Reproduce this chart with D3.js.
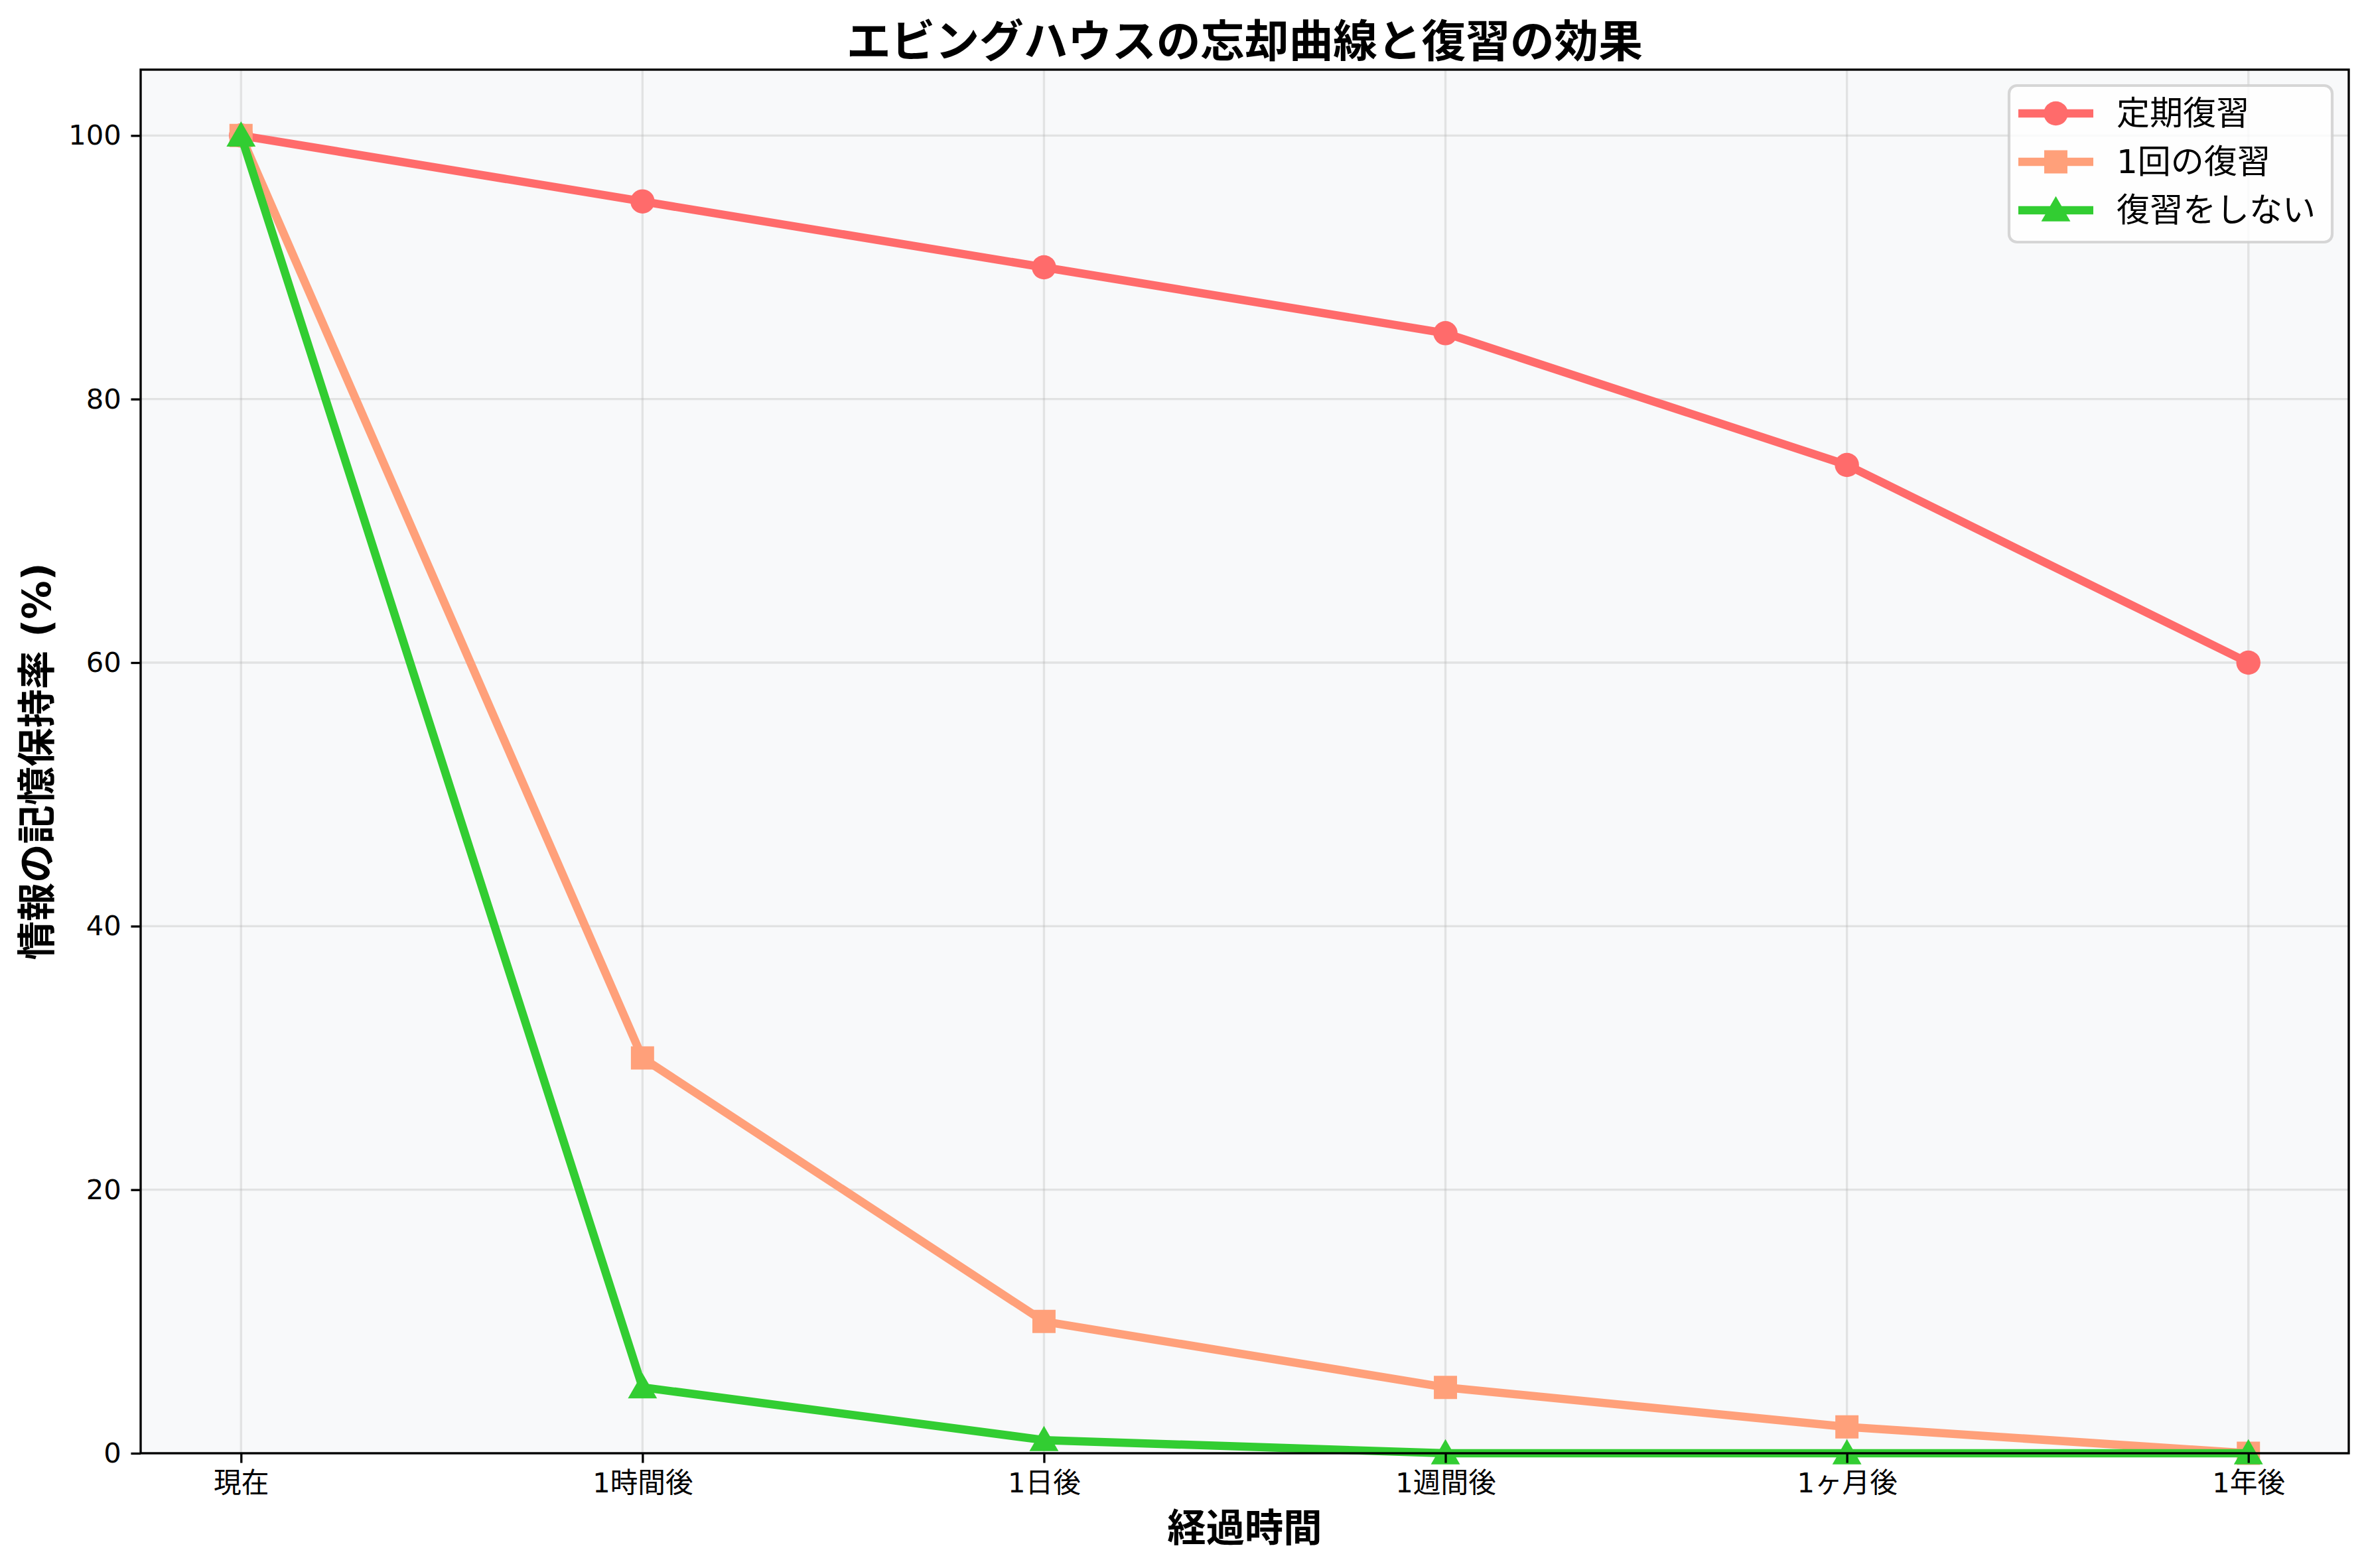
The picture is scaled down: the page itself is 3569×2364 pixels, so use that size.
<!DOCTYPE html>
<html>
<head>
<meta charset="utf-8">
<script src="https://cdn.jsdelivr.net/npm/d3@7/dist/d3.min.js"></script>
<style>
  html, body { margin: 0; padding: 0; background: #ffffff; }
  svg { display: block; }
  text { font-family: "DejaVu Sans", "Noto Sans CJK JP", sans-serif; }
</style>
</head>
<body>
<script>
// ---- data ----
const categories = ["現在", "1時間後", "1日後", "1週間後", "1ヶ月後", "1年後"];
const seriesNames = ["定期復習", "1回の復習", "復習をしない"];
const seriesRegular = [100, 95, 90, 85, 75, 60];
const seriesOnce = [100, 30, 10, 5, 2, 0];
const seriesNone = [100, 5, 1, 0, 0, 0];
const yTicks = [0, 20, 40, 60, 80, 100];
const titleText = "エビングハウスの忘却曲線と復習の効果";
const xLabelText = "経過時間";
const yLabelText = "情報の記憶保持率 (%)";

const W = 3569, H = 2364;
const m = { left: 212, right: 3540, top: 105, bottom: 2191 };
const pt = 300 / 72;

const colors = ["#FF6B6B", "#FFA07A", "#32CD32"];
const shapes = [d3.symbolCircle, d3.symbolSquare, d3.symbolTriangle];
const seriesData = [seriesRegular, seriesOnce, seriesNone];

const svg = d3.select("body").append("svg").attr("width", W).attr("height", H);
svg.append("rect").attr("width", W).attr("height", H).attr("fill", "#ffffff");

const x = d3.scaleLinear().domain([-0.25, categories.length - 1 + 0.25]).range([m.left, m.right]);
const y = d3.scaleLinear().domain([0, 105]).range([m.bottom, m.top]);

// plot background
svg.append("rect").attr("x", m.left).attr("y", m.top)
  .attr("width", m.right - m.left).attr("height", m.bottom - m.top).attr("fill", "#f8f9fa");

// grid
const grid = svg.append("g");
grid.selectAll("line.gx").data(categories.map((c, i) => i)).enter().append("line")
  .attr("x1", d => x(d)).attr("x2", d => x(d)).attr("y1", m.top).attr("y2", m.bottom)
  .attr("stroke", "#b0b0b0").attr("stroke-opacity", 0.3).attr("stroke-width", 0.8 * pt);
grid.selectAll("line.gy").data(yTicks).enter().append("line")
  .attr("x1", m.left).attr("x2", m.right).attr("y1", d => y(d)).attr("y2", d => y(d))
  .attr("stroke", "#b0b0b0").attr("stroke-opacity", 0.3).attr("stroke-width", 0.8 * pt);

// lines and markers
const line = d3.line().x((d, i) => x(i)).y(d => y(d));
const markerArea = Math.pow(8 * pt, 2);
const markerSize = [Math.PI / 4 * markerArea * 1.2, markerArea * 1.1, markerArea * 0.75];

seriesData.forEach((vals, s) => {
  const g = svg.append("g");
  g.append("path").datum(vals).attr("d", line).attr("fill", "none")
    .attr("stroke", colors[s]).attr("stroke-width", 3 * pt).attr("stroke-linejoin", "round")
    .attr("stroke-linecap", "butt");
  g.selectAll("path.mk").data(vals).enter().append("path")
    .attr("transform", (d, i) => `translate(${x(i)},${y(d) + (s === 2 ? 4 : 0)})`)
    .attr("d", d3.symbol().type(shapes[s]).size(markerSize[s]))
    .attr("fill", colors[s]);
});

// spines
svg.append("rect").attr("x", m.left).attr("y", m.top)
  .attr("width", m.right - m.left).attr("height", m.bottom - m.top)
  .attr("fill", "none").attr("stroke", "#000").attr("stroke-width", 0.8 * pt);

// axes
const xAxis = d3.axisBottom(x).tickValues(categories.map((c, i) => i))
  .tickFormat(i => categories[i]).tickSize(3.5 * pt).tickPadding(3.5 * pt);
const gx = svg.append("g").attr("transform", `translate(0,${m.bottom})`).call(xAxis);
gx.select(".domain").remove();
gx.selectAll(".tick line").attr("stroke", "#000").attr("stroke-width", 0.8 * pt);
gx.selectAll(".tick text").attr("font-size", 10 * pt).attr("fill", "#000")
  .attr("font-family", '"DejaVu Sans", "Noto Sans CJK JP", sans-serif');

const yAxis = d3.axisLeft(y).tickValues(yTicks).tickSize(3.5 * pt).tickPadding(3.5 * pt);
const gy = svg.append("g").attr("transform", `translate(${m.left},0)`).call(yAxis);
gy.select(".domain").remove();
gy.selectAll(".tick line").attr("stroke", "#000").attr("stroke-width", 0.8 * pt);
gy.selectAll(".tick text").attr("font-size", 10 * pt).attr("fill", "#000")
  .attr("font-family", '"DejaVu Sans", "Noto Sans CJK JP", sans-serif');

// title & labels
svg.append("text").attr("x", (m.left + m.right) / 2).attr("y", 86)
  .attr("text-anchor", "middle").attr("font-size", 16 * pt).attr("font-weight", "bold")
  .attr("fill", "#000").text(titleText);
svg.append("text").attr("x", (m.left + m.right) / 2).attr("y", 2324)
  .attr("text-anchor", "middle").attr("font-size", 14 * pt).attr("font-weight", "bold")
  .attr("fill", "#000").text(xLabelText);
svg.append("text").attr("transform", `translate(76,${(m.top + m.bottom) / 2}) rotate(-90)`)
  .attr("text-anchor", "middle").attr("font-size", 14 * pt).attr("font-weight", "bold")
  .attr("fill", "#000").text(yLabelText);

// legend (anchored upper right; width fits its texts)
const lg = svg.append("g");
const legRight = 3515;
const boxRect = lg.append("rect");
const items = lg.append("g");
const texts = [];
seriesNames.forEach((name, s) => {
  const cy = 171 + s * 73;
  const it = items.append("g");
  it.append("line").attr("x1", 14).attr("x2", 127).attr("y1", cy).attr("y2", cy)
    .attr("stroke", colors[s]).attr("stroke-width", 3 * pt);
  it.append("path").attr("transform", `translate(70.5,${cy + (s === 2 ? 4 : 0)})`)
    .attr("d", d3.symbol().type(shapes[s]).size(markerSize[s])).attr("fill", colors[s]);
  texts.push(it.append("text").attr("x", 162).attr("y", cy + 17).attr("font-size", 12 * pt)
    .attr("fill", "#000").text(name));
});
const maxW = d3.max(texts, t => t.node().getComputedTextLength());
const boxW = 162 + maxW + 25;
const legLeft = legRight - boxW;
items.attr("transform", `translate(${legLeft},0)`);
boxRect.attr("x", legLeft).attr("y", 129).attr("width", boxW).attr("height", 236)
  .attr("rx", 12).attr("ry", 12)
  .attr("fill", "#ffffff").attr("fill-opacity", 0.8)
  .attr("stroke", "#cccccc").attr("stroke-opacity", 0.8).attr("stroke-width", 1 * pt);
</script>
</body>
</html>
